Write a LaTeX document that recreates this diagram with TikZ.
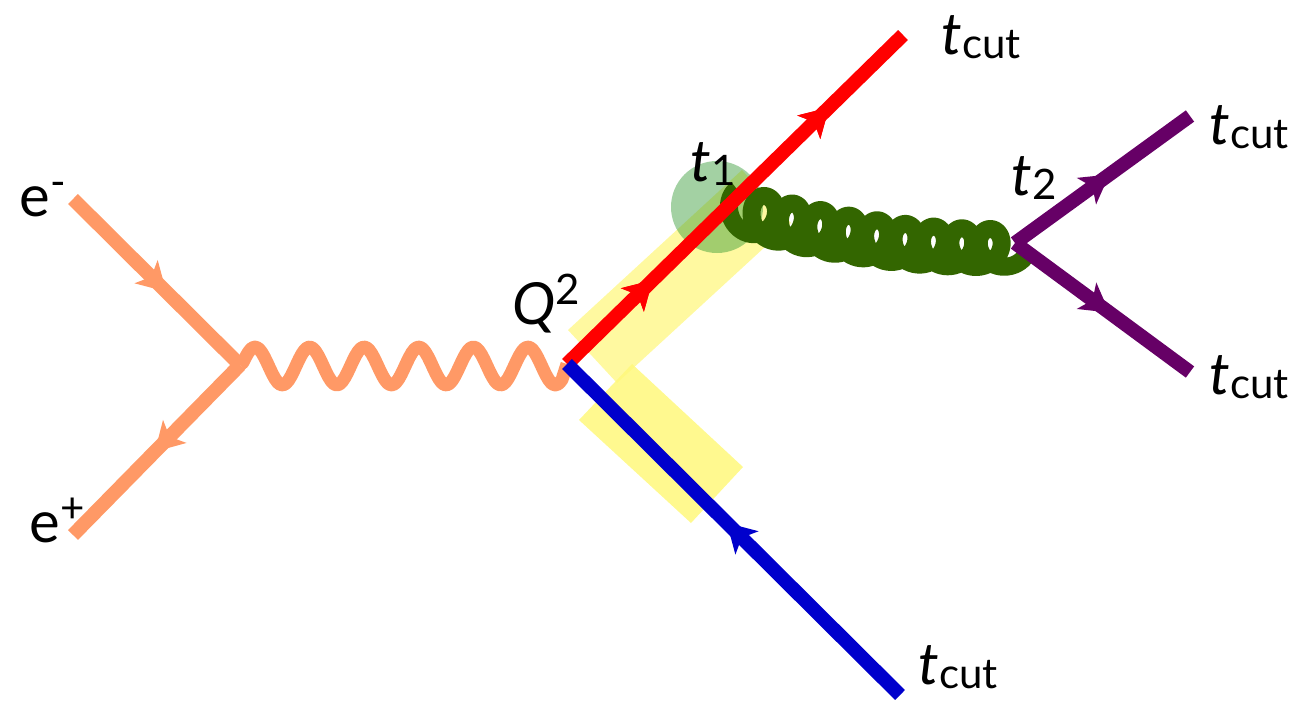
\documentclass[tikz,border=0pt]{standalone}
\usepackage{fontspec}
\setmainfont{Lato}
\usepackage{xcolor}
\usepackage{tikz}
\usetikzlibrary{arrows.meta,decorations.markings}
\definecolor{Lepton}{HTML}{FF9966}
\definecolor{Quark}{HTML}{FF0000}
\definecolor{AntiQuark}{HTML}{0000CC}
\definecolor{Decay}{HTML}{660066}
\definecolor{Gluon}{HTML}{336600}
\definecolor{BandUp}{HTML}{FFF88F}
\definecolor{BandLow}{HTML}{FFF87B}
\definecolor{Blob}{HTML}{339933}
\newcommand{\tsub}[1]{\textit{t}\raisebox{-2pt}{\fontsize{21}{21}\selectfont #1}}
\newcommand{\tsup}[1]{\raisebox{10pt}{\fontsize{21}{21}\selectfont #1}}
\begin{document}
\begin{tikzpicture}[
  x=0.5pt,y=-0.5pt,
  label/.style={inner sep=0pt,font=\fontsize{29}{29}\selectfont},
  tipa/.style={decoration={markings,mark=at position #1 with {\arrow{Stealth[length=14pt,width=16pt,inset=3.5pt]}}},postaction=decorate},
  fermion/.style={line width=7pt,color=#1},
  band/.style={fill opacity=0.85}
]
  \useasboundingbox (0,0) rectangle (1296,702);
  % shaded regions first
  \fill[band,fill=BandUp] (568,330) -- (742,170) -- (791,223) -- (617,383) -- cycle;
  \fill[band,fill=BandLow] (579,420) -- (632,364) -- (743,467) -- (691,523) -- cycle;
  \fill[Blob,opacity=0.45] (717,207) circle (23pt);

  \coordinate (eminus) at (73,199);
  \coordinate (eplus) at (73,535);
  \coordinate (vee) at (240,365);
  \coordinate (qvert) at (567,364);
  \coordinate (qend) at (903,35);
  \coordinate (qbarend) at (900,695);
  \coordinate (gend) at (1015,243);
  \coordinate (dup) at (1190,116);
  \coordinate (ddown) at (1190,372);

  \draw[line width=6.5pt,color=Lepton,line join=round]
    (vee) -- plot[domain=243:562,samples=120] (\x,{366-19*cos((\x-255)/54.6*360)}) -- (qvert);
  \draw[fermion=Lepton,tipa=0.56] (eminus) -- (vee);
  \draw[fermion=Lepton,tipa=0.51] (vee) -- (eplus);
  % gluon coil, loops on the upper side
  \draw[line width=9pt,color=Gluon,line join=round]
    plot[domain=-340:3120,samples=400,variable=\t]
    ({763+\t/360*28.4+max(-\t,0)/360*7.4-18*sin(\t)},{248-31*(1-\t/2878)*(1-\t/2878)-(21-2*\t/2878)*cos(\t)});
  \draw[fermion=Quark,tipa=0.255,tipa=0.78] (qvert) -- (qend);
  \draw[fermion=AntiQuark,tipa=0.52] (qbarend) -- (qvert);
  \draw[fermion=Decay,tipa=0.54] (gend) -- (dup);
  \draw[fermion=Decay,tipa=0.54] (gend) -- (ddown);

  \node[label] (lminus) at (43,200) {e\tsup{-}};
  \node[label] (lplus) at (57,520) {e\tsup{+}};
  \node[label] (lq) at (546,304) {\textit{Q}\tsup{2}};
  \node[label] (lone) at (713,164) {\tsub{1}};
  \node[label] (ltwo) at (1034,178) {\tsub{2}};
  \node[label] (ca) at (981,37) {\tsub{cut}};
  \node[label] (cb) at (1249,127) {\tsub{cut}};
  \node[label] (cc) at (1249,377) {\tsub{cut}};
  \node[label] (cd) at (958,667) {\tsub{cut}};
\end{tikzpicture}
\end{document}
